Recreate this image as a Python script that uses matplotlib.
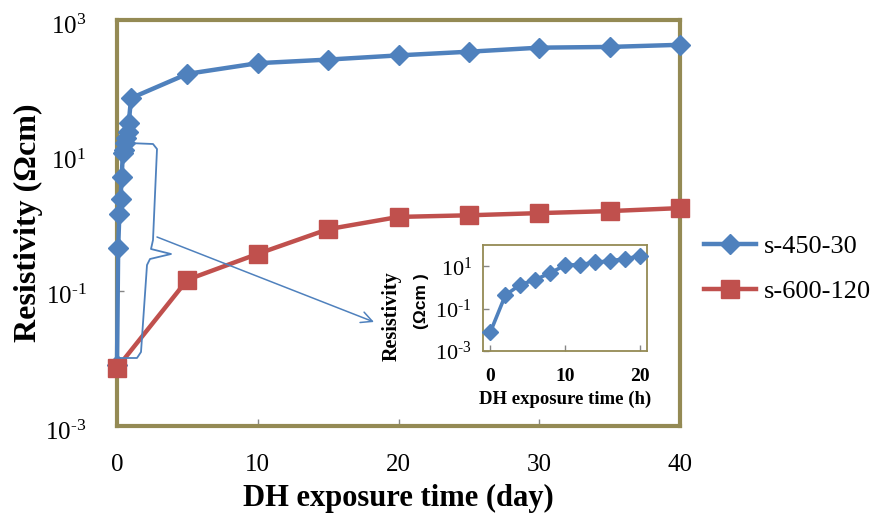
import matplotlib
matplotlib.use("Agg")
import matplotlib.pyplot as plt
import matplotlib.transforms as mtransforms
from matplotlib.path import Path
from matplotlib.patches import PathPatch, FancyArrowPatch

plt.rcParams['font.family'] = ['Liberation Serif', 'DejaVu Serif']
plt.rcParams['mathtext.fontset'] = 'custom'
plt.rcParams['mathtext.rm'] = 'Liberation Serif'

# ---- data ----
early_hours = [0, 2, 4, 6, 8, 10, 12, 14, 16, 18, 20]
early_rho_450 = [0.008, 0.43, 1.35, 2.3, 4.8, 11, 12, 15, 18, 22, 30]

late_days_450 = [1, 5, 10, 15, 20, 25, 30, 35, 40]
late_rho_450 = [70, 160, 230, 260, 300, 340, 390, 400, 430]

days_600 = [0, 5, 10, 15, 20, 25, 30, 35, 40]
rho_600 = [0.0072, 0.145, 0.35, 0.81, 1.23, 1.3, 1.4, 1.5, 1.66]

series_names = ['s-450-30', 's-600-120']
ytick_vals = [1e-3, 1e-1, 1e1, 1e3]
ytick_labels = [r'$\mathregular{10^{\text{-}3}}$', r'$\mathregular{10^{\text{-}1}}$',
                r'$\mathregular{10^{1}}$', r'$\mathregular{10^{3}}$']
inset_ytick_vals = [1e-3, 1e-1, 1e1]
inset_ytick_labels = [r'$\mathregular{10^{\text{-}3}}$', r'$\mathregular{10^{\text{-}1}}$',
                      r'$\mathregular{10^{1}}$']

days_450 = [h / 24 for h in early_hours] + late_days_450
rho_450 = early_rho_450 + late_rho_450

BLUE = '#4F81BD'
RED = '#C0504D'
FRAME = '#948A54'
TICK = '#868686'

fig = plt.figure(figsize=(8.72, 5.2), dpi=100)
ax = fig.add_axes([117 / 872, 1 - 426 / 520, 563 / 872, 406 / 520])

ax.plot(days_450, rho_450, color=BLUE, lw=3.2, marker='D', ms=10,
        mec=BLUE, mfc=BLUE, clip_on=False, zorder=5, label=series_names[0])
ax.plot(days_600, rho_600, color=RED, lw=3.2, marker='s', ms=13,
        mec=RED, mfc=RED, clip_on=False, zorder=6, label=series_names[1])

ax.set_yscale('log')
ax.set_ylim(1e-3, 1e3)
ax.set_xlim(0, 40)
ax.set_yticks(ytick_vals)
ax.set_yticklabels(ytick_labels, fontsize=18)
ax.minorticks_off()
ax.set_xticks([0, 10, 20, 30, 40])
ax.set_xticklabels(['0', '10', '20', '30', '40'], fontsize=18)
ax.tick_params(axis='both', direction='in', length=5, width=1, color=TICK)
ax.tick_params(axis='y', pad=22)
ax.tick_params(axis='x', pad=20)
shift = mtransforms.ScaledTranslation(0, -4 / 100, fig.dpi_scale_trans)
for lbl in ax.get_yticklabels():
    lbl.set_transform(lbl.get_transform() + shift)
for s in ax.spines.values():
    s.set_color(FRAME)
    s.set_linewidth(3)

ax.set_xlabel('DH exposure time (day)', fontsize=22, fontweight='bold', labelpad=6)
ax.set_ylabel('Resistivity (\u03a9cm)', fontsize=23, fontweight='bold', labelpad=2)


def px(x, y):
    # pixel position in the figure -> axes fraction of the main axes
    return ((x - 117) / 563, (426 - y) / 406)


# curly brace marking the first-day points
brace_pts = [(128, 143), (153, 144), (157, 149), (153, 240), (151, 249),
             (171, 254), (150, 259), (147, 265), (141, 352), (137, 358),
             (120, 358)]
verts = [px(*p) for p in brace_pts]
codes = [Path.MOVETO] + [Path.LINETO] * (len(verts) - 1)
ax.add_patch(PathPatch(Path(verts, codes), transform=ax.transAxes, fill=False,
                       ec=BLUE, lw=1.3, zorder=8, clip_on=False,
                       joinstyle='round'))
ax.add_patch(FancyArrowPatch(px(157, 237), px(374, 322), transform=ax.transAxes,
                             arrowstyle='->,head_length=8,head_width=4',
                             color=BLUE, lw=1.1, zorder=8,
                             shrinkA=0, shrinkB=0))

fig.legend(loc='center left', bbox_to_anchor=(693 / 872, 1 - 269 / 520),
           frameon=False, fontsize=19, handlelength=2.0, labelspacing=0.8,
           handletextpad=0.3, borderaxespad=0)

# inset: first 20 hours
ins = fig.add_axes([483 / 872, 1 - 351 / 520, 164 / 872, 106 / 520])
ins.plot(early_hours, early_rho_450, color=BLUE, lw=2.6, marker='D', ms=8,
         mec=BLUE, mfc=BLUE, clip_on=False, zorder=5)
ins.set_yscale('log')
ins.set_ylim(1e-3, 1e2)
ins.set_xlim(-1, 21)
ins.set_yticks(inset_ytick_vals)
ins.set_yticklabels(inset_ytick_labels, fontsize=16)
ins.minorticks_off()
ins.set_xticks([0, 10, 20])
ins.set_xticklabels(['0', '10', '20'], fontsize=14, fontweight='bold')
ins.tick_params(axis='both', direction='in', length=4, width=1, color=TICK)
ins.tick_params(axis='y', pad=8)
ins.tick_params(axis='x', pad=12)
for s in ins.spines.values():
    s.set_color(FRAME)
    s.set_linewidth(1.3)
ins.set_xlabel('DH exposure time (h)', fontsize=13.5, fontweight='bold', labelpad=4)

# two-line y label of the inset
fig.text(392 / 872, 1 - 316 / 520, 'Resistivity', rotation=90, fontsize=14.5,
         fontweight='bold', ha='center', va='center')
fig.text(421 / 872, 1 - 301 / 520, '(\u03a9cm )', rotation=90, fontsize=12.5,
         fontweight='bold', ha='center', va='center',
         family=['Liberation Sans', 'DejaVu Sans'])

fig.savefig('out.png', dpi=100)
